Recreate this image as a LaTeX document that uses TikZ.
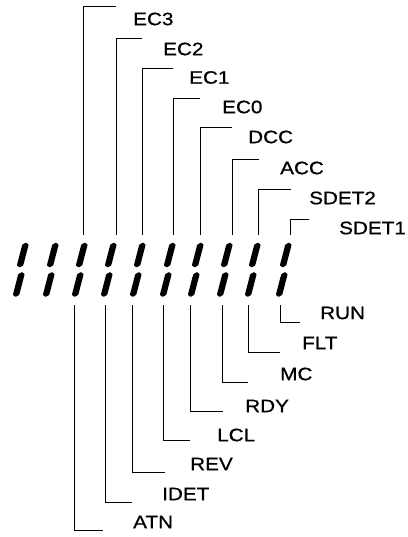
\documentclass[tikz,border=0pt]{standalone}
\usepackage{fontspec}
\setmainfont[FakeStretch=1.15,FakeBold=0.8]{Liberation Sans}
\tikzset{
  lbl/.style={anchor=west,inner sep=0pt,font=\fontsize{18}{21}\selectfont},
  wire/.style={draw=black,line width=0.9pt},
  seg/.style={fill=black,rounded corners=0.5pt}
}
\newcommand\segm[3]{%
  \begin{scope}[shift={(#1,#2)},xslant=0.26]
    \path[seg] (0,0)--(3.2,2.2)--(3.2,#3-2.2)--(0,#3)--(-3.2,#3-2.2)--(-3.2,2.2)--cycle;
  \end{scope}}
\newcommand\digitone[1]{%
  \segm{#1}{242.5}{25}%
  \segm{#1-4}{272}{25}}
\begin{document}
\begin{tikzpicture}[x=1pt,y=-1pt]
\useasboundingbox (0,0) rectangle (407,537);
% seven-segment "1" digits
\digitone{26}
\digitone{56}
\digitone{85}
\digitone{114}
\digitone{143}
\digitone{173}
\digitone{201}
\digitone{230}
\digitone{258}
\digitone{289}
% top labels
\node[lbl] (ec3)   at (133,19)  {EC3};
\node[lbl] (ec2)   at (163,49)  {EC2};
\node[lbl] (ec1)   at (189,77.5){EC1};
\node[lbl] (ec0)   at (222,107) {EC0};
\node[lbl] (dcc)   at (248,137) {DCC};
\node[lbl] (acc)   at (280,168) {ACC};
\node[lbl] (sdet2) at (309,198) {SDET2};
\node[lbl] (sdet1) at (339,228) {SDET1};
% bottom labels
\node[lbl] (run)  at (320,313) {RUN};
\node[lbl] (flt)  at (302,343) {FLT};
\node[lbl] (mc)   at (280,374) {MC};
\node[lbl] (rdy)  at (245,406) {RDY};
\node[lbl] (lcl)  at (217,435) {LCL};
\node[lbl] (rev)  at (190,464) {REV};
\node[lbl] (idet) at (162,494) {IDET};
\node[lbl] (atn)  at (133,522) {ATN};
% top connector coordinates
\coordinate (t1) at (83,235);  \coordinate (h1) at (116,6);
\coordinate (t2) at (116,235); \coordinate (h2) at (142,38);
\coordinate (t3) at (142,235); \coordinate (h3) at (173,68);
\coordinate (t4) at (173,235); \coordinate (h4) at (200,98);
\coordinate (t5) at (200,235); \coordinate (h5) at (232,127);
\coordinate (t6) at (232,235); \coordinate (h6) at (259,159);
\coordinate (t7) at (258,235); \coordinate (h7) at (291,189);
\coordinate (t8) at (290,235); \coordinate (h8) at (309,219);
\foreach \i in {1,...,8} \draw[wire] (t\i) |- (h\i);
% bottom connector coordinates
\coordinate (b1) at (74,305);  \coordinate (g1) at (103,530);
\coordinate (b2) at (105,305); \coordinate (g2) at (132,502);
\coordinate (b3) at (132,305); \coordinate (g3) at (165,472);
\coordinate (b4) at (163,305); \coordinate (g4) at (190,440);
\coordinate (b5) at (190,305); \coordinate (g5) at (223,411);
\coordinate (b6) at (222,305); \coordinate (g6) at (248,382);
\coordinate (b7) at (248,305); \coordinate (g7) at (280,352);
\coordinate (b8) at (280,305); \coordinate (g8) at (300,322);
\foreach \i in {1,...,8} \draw[wire] (b\i) |- (g\i);
\end{tikzpicture}
\end{document}
